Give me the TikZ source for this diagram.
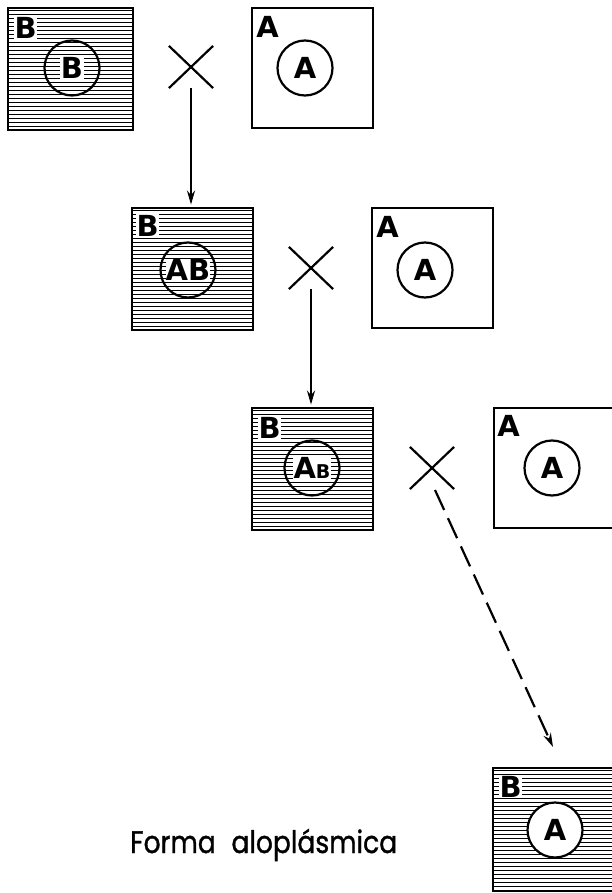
\documentclass[tikz,border=0pt]{standalone}
\usepackage{fontspec}
\setmainfont{DejaVu Sans}
\newfontfamily\captionfont[FakeBold=1.2]{Poppins}
\usetikzlibrary{arrows.meta,shapes.misc}

\begin{document}
\begin{tikzpicture}[x=1pt,y=-1pt,
  frame/.style={draw, line width=2.8pt, minimum width=121pt, minimum height=121pt, inner sep=0pt},
  hatched/.style={path picture={
      \foreach \k in {2,6,...,126}
        \draw[line width=0.95pt]
          ([yshift=-\k pt]path picture bounding box.north west) --
          ([yshift=-\k pt]path picture bounding box.north east);}},
  nucleus/.style={circle, draw, line width=2.2pt, minimum size=55pt, inner sep=0pt},
  letter/.style={font=\fontsize{29}{29}\selectfont\bfseries, inner sep=0.8pt},
  crossmark/.style={cross out, draw, line width=2.2pt, minimum width=42pt, minimum height=40pt, inner sep=0pt},
  arrowline/.style={line width=2.2pt, -{Stealth[length=14pt,width=8pt]}},
  dashline/.style={line width=2.2pt, dash pattern=on 22pt off 9pt, -{Stealth[length=14pt,width=8pt]}}
]
\clip (0,0) rectangle (612,893);

% first cross: B x A
\node[frame, hatched, minimum width=125pt, minimum height=122pt] (b1) at (70.5,69) {};
\node[nucleus] (n1) at (72,68) {};
\node[letter, fill=white] (n1t) at (n1) {B};
\node[letter, fill=white] (b1t) at ([xshift=19pt, yshift=-21pt]b1.north west) {B};
\node[crossmark] (c1) at (191,67) {};
\node[frame, minimum height=120pt] (a1) at (312.5,68) {};
\node[nucleus] (m1) at (305,68) {};
\node[letter] (m1t) at (m1) {A};
\node[letter] (a1t) at ([xshift=17pt, yshift=-20pt]a1.north west) {A};

% second cross: B(AB) x A
\node[frame, hatched, minimum height=122pt] (b2) at (192.5,269) {};
\node[nucleus] (n2) at (188,270) {};
\node[letter, fill=white, inner sep=0pt] (n2t) at (n2) {AB};
\node[letter, fill=white] (b2t) at ([xshift=17pt, yshift=-19pt]b2.north west) {B};
\node[crossmark] (c2) at (311,268) {};
\node[frame, minimum height=120pt] (a2) at (432.5,268) {};
\node[nucleus] (m2) at (425,270) {};
\node[letter] (m2t) at (m2) {A};
\node[letter] (a2t) at ([xshift=17pt, yshift=-20pt]a2.north west) {A};

% third cross: B(A_B) x A
\node[frame, hatched, minimum height=122pt] (b3) at (312.5,469) {};
\node[nucleus] (n3) at (312,468) {};
\node[letter, fill=white, inner sep=0.5pt] (n3t) at (n3) {A\fontsize{19}{19}\selectfont B};
\node[letter, fill=white] (b3t) at ([xshift=19pt, yshift=-21pt]b3.north west) {B};
\node[crossmark] (c3) at (432,468) {};
\node[frame, minimum height=120pt] (a3) at (554.5,468) {};
\node[nucleus] (m3) at (552,468) {};
\node[letter] (m3t) at (m3) {A};
\node[letter] (a3t) at ([xshift=16pt, yshift=-19pt]a3.north west) {A};

% resulting alloplasmic form
\node[frame, hatched, minimum width=122pt, minimum height=123pt] (b4) at (554,829.5) {};
\node[nucleus, fill=white] (n4) at (555,830) {};
\node[letter] (n4t) at (n4) {A};
\node[letter, fill=white] (b4t) at ([xshift=19pt, yshift=-20pt]b4.north west) {B};

% descent arrows
\draw[arrowline, shorten >=2pt] (c1.south) -- (c1.south |- b2.north);
\draw[arrowline, shorten >=2pt] (c2.south) -- (c2.south |- b3.north);
\coordinate (d0) at (435,490);
\coordinate (d1) at (553,747);
\draw[dashline] (d0) -- (d1);

\node[anchor=base west, inner sep=0pt] (cap) at (130,853)
  {\resizebox{267pt}{\height}{\captionfont\fontsize{31}{31}\selectfont Forma\hspace{10pt} aloplásmica}};
\end{tikzpicture}
\end{document}
